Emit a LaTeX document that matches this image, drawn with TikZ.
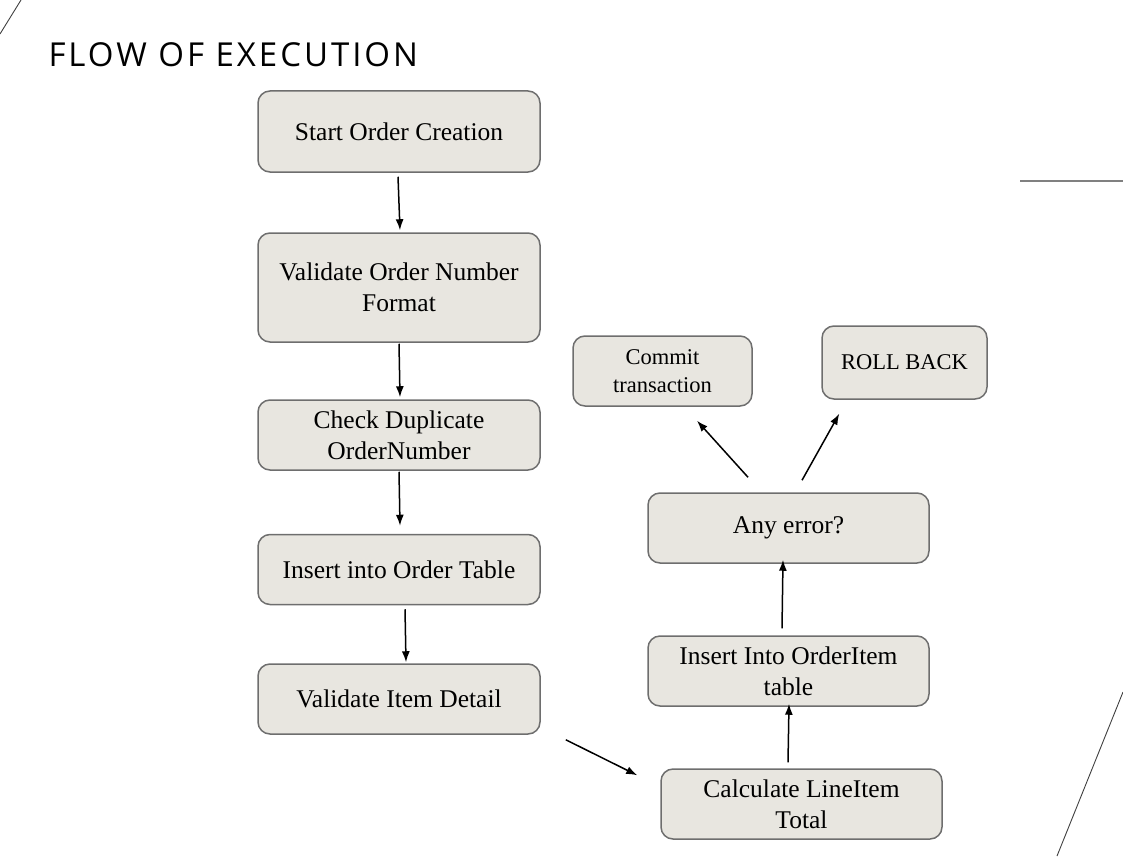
\documentclass[tikz,border=0pt]{standalone}
\usepackage{fontspec}
\setmainfont{Liberation Serif}
\newfontfamily\titlefont[LetterSpace=9]{Open Sans}
\usetikzlibrary{arrows.meta,calc}

\definecolor{boxfill}{HTML}{E8E6E0}
\definecolor{boxline}{HTML}{6E6E6E}
\definecolor{decoline}{HTML}{808080}

\tikzset{
  flowbox/.style={draw=boxline, fill=boxfill, line width=1.5pt, rounded corners=12pt,
    minimum width=282pt, minimum height=70pt, align=center, inner sep=0pt,
    font=\fontsize{25.5}{31}\selectfont},
  smallbox/.style={flowbox, font=\fontsize{22.5}{28}\selectfont},
  flow/.style={-{Latex[length=11pt,width=8pt]}, line width=1.5pt, black},
}

\begin{document}
\begin{tikzpicture}[x=1pt,y=-1pt]
	\useasboundingbox (0,0) rectangle (1123,856);
	% decoration lines
	\draw[line width=0.9pt, black!75] (0,34) -- (21,0);
	\draw[line width=2pt, decoline] (1020,181) -- (1123,181);
	\draw[line width=0.9pt, black!75] (1057,856) -- (1123,692);

	\node[anchor=base west, font=\titlefont\fontsize{33}{36}\selectfont] (title) at (45,66.5) {FLOW OF EXECUTION};

	% left column
	\node[flowbox, minimum height=81pt] (start) at (399,131.5) {Start Order Creation};
	\node[flowbox, minimum height=109pt] (valid) at (399,287.5) {Validate Order Number\\Format};
	\node[flowbox] (dup) at (399,435) {Check Duplicate\\OrderNumber};
	\node[flowbox] (order) at (399,569.5) {Insert into Order Table};
	\node[flowbox] (item) at (399,699) {Validate Item Detail};

	% right column
	\node[flowbox, minimum width=281pt] (calc) at (801.5,804) {Calculate LineItem\\Total};
	\node[flowbox, minimum width=281pt] (oitem) at (788.5,671) {Insert Into OrderItem\\table};
	\node[flowbox, minimum width=281pt] (anyerr) at (788.5,528) {Any error?};
	\node[smallbox, minimum width=179pt] (commit) at (662.5,371) {Commit\\transaction};
	\node[smallbox, minimum width=165pt, minimum height=73pt] (rollback) at (904.5,362.5) {ROLL BACK};

	% connectors
	\draw[flow] ($(start.south)+(-1,4)$) -- ($(valid.north)+(1,-2)$);
	\draw[flow] ($(valid.south)+(0,1)$) -- ($(dup.north)+(1,-2)$);
	\draw[flow] ($(dup.south)+(0,1)$) -- ($(order.north)+(1,-8)$);
	\draw[flow] ($(order.south)+(6,4)$) -- ($(item.north)+(7,-1)$);
	\draw[flow] ($(item.south east)+(25,5)$) -- ($(calc.north west)+(-23,7)$);
	\draw[flow] ($(calc.north)+(-13.5,-6)$) -- ($(oitem.south)+(0.5,-3)$);
	\draw[flow] ($(oitem.north)+(-6.5,-7)$) -- ($(anyerr.south)+(-5.5,-4)$);
	\draw[flow] ($(anyerr.north)+(-40.5,-15)$) -- ($(commit.south)+(34.5,14)$);
	\draw[flow] ($(anyerr.north)+(13.5,-12)$) -- ($(rollback.south west)+(18,14)$);
\end{tikzpicture}
\end{document}
